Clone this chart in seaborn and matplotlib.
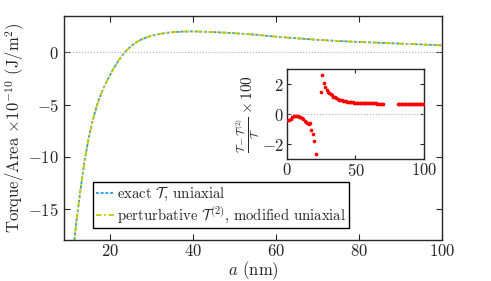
import numpy as np
import matplotlib
matplotlib.use("Agg")
import matplotlib.pyplot as plt
import seaborn as sns

# main curve: torque per area (x1e-10 J/m^2) vs separation a (nm)
a_main = [9, 10, 11, 12, 13, 14, 15, 16, 17, 18, 19, 20, 21, 22, 23, 24, 25, 26, 27, 28,
          30, 32, 34, 36, 38, 40, 42, 45, 50, 55, 60, 65, 70, 75, 80, 85, 90, 95, 100]
torque_exact = [-34.0, -26.5, -19.8, -16.2, -13.1, -10.3, -8.1, -6.4, -5.0, -3.9, -3.0, -2.25,
                -1.5, -0.85, -0.3, 0.17, 0.55, 0.87, 1.12, 1.32,
                1.6, 1.78, 1.9, 1.97, 2.01, 2.02, 2.0, 1.96, 1.85, 1.71, 1.52, 1.36, 1.22,
                1.1, 1.01, 0.93, 0.85, 0.77, 0.68]
torque_pert = [-34.0, -26.5, -19.8, -16.2, -13.1, -10.3, -8.1, -6.4, -5.0, -3.9, -3.0, -2.25,
               -1.5, -0.85, -0.3, 0.17, 0.55, 0.87, 1.12, 1.32,
               1.6, 1.78, 1.9, 1.97, 2.01, 2.02, 2.0, 1.96, 1.85, 1.71, 1.52, 1.36, 1.22,
               1.1, 1.01, 0.93, 0.85, 0.77, 0.68]

# inset: relative difference x 100
a_rel = list(range(1, 22)) + list(range(25, 71)) + list(range(81, 101))
rel_diff = ([-0.42, -0.4, -0.3, -0.2, -0.14, -0.12, -0.11, -0.13, -0.17, -0.22,
             -0.28, -0.35, -0.43, -0.5, -0.57, -0.68, -0.62, -1.05, -1.35, -1.8, -2.65]
            + [1.5, 2.6, 2.1, 1.85, 1.65, 1.5, 1.4, 1.32, 1.25, 1.18,
               1.12, 1.07, 1.02, 0.98, 0.95, 0.92, 0.89, 0.87, 0.85, 0.83,
               0.82, 0.81, 0.8, 0.79, 0.78, 0.77, 0.77, 0.76, 0.76, 0.75,
               0.75, 0.74, 0.74, 0.74, 0.73, 0.73, 0.73, 0.72, 0.72, 0.72,
               0.72, 0.71, 0.71, 0.71, 0.71, 0.71]
            + [0.7] * 20)

sns.set_style("ticks")
plt.rcParams['font.family'] = ['serif']
plt.rcParams['font.serif'] = ['cmr10', 'DejaVu Serif']
plt.rcParams['mathtext.fontset'] = 'cm'
plt.rcParams['axes.formatter.use_mathtext'] = True
plt.rcParams['axes.unicode_minus'] = True
plt.rcParams['font.size'] = 12

blue = '#2b9fd9'
yellow = '#c9c800'

fig = plt.figure(figsize=(4.91, 2.81), dpi=100)
ax = fig.add_axes([0.1303, 0.146, 0.770, 0.797])

ax.axhline(0, color='#b0b0b0', lw=0.8, ls=':', zorder=1)
sns.lineplot(x=a_main, y=torque_exact, ax=ax, color=blue, lw=1.3,
             linestyle=(0, (1.6, 1.0)), label=r'exact $\mathcal{T}$, uniaxial')
sns.lineplot(x=a_main, y=torque_pert, ax=ax, color=yellow, lw=1.3,
             linestyle=(0, (3.0, 1.5, 1.0, 1.5)),
             label=r'perturbative $\mathcal{T}^{(2)}$, modified uniaxial')

ax.set_xlim(9, 100)
ax.set_ylim(-18, 3.5)
ax.set_xticks([20, 40, 60, 80, 100])
ax.set_yticks([-15, -10, -5, 0])
ax.tick_params(direction='in', top=True, right=True, length=4, width=0.8, labelsize=12)
ax.tick_params(axis='x', pad=2.5)
for s in ax.spines.values():
    s.set_linewidth(1.0)
ax.set_xlabel(r'$a$ (nm)', fontsize=12)
ax.xaxis.set_label_coords(0.5, -0.088)
ax.set_ylabel(r'Torque/Area $\times 10^{-10}$ (J/m$^2$)', fontsize=12, labelpad=1)

leg = ax.legend(loc='lower left', bbox_to_anchor=(0.0775, 0.052), borderaxespad=0,
                fontsize=10.6, frameon=True, fancybox=False, edgecolor='black',
                handlelength=1.2, handletextpad=0.2, borderpad=0.2, labelspacing=0.15)
leg.get_frame().set_linewidth(1.0)
leg.get_frame().set_alpha(1)

ins = fig.add_axes([0.584, 0.4342, 0.280, 0.319])
ins.axhline(0, color='#b0b0b0', lw=0.8, ls=':', zorder=1)
sns.scatterplot(x=a_rel, y=rel_diff, ax=ins, color='red', s=7, linewidth=0, zorder=3)
ins.set_xlim(0, 100)
ins.set_ylim(-3, 3)
ins.set_xticks([0, 50, 100])
ins.set_yticks([-2, 0, 2])
ins.tick_params(direction='in', top=True, right=True, length=3, width=0.8, labelsize=12, pad=2)
for s in ins.spines.values():
    s.set_linewidth(1.0)
ins.set_ylabel(r'$\frac{\mathcal{T}-\mathcal{T}^{(2)}}{\mathcal{T}}\times 100$', fontsize=11, labelpad=0)

fig.savefig('out.png', dpi=100)
